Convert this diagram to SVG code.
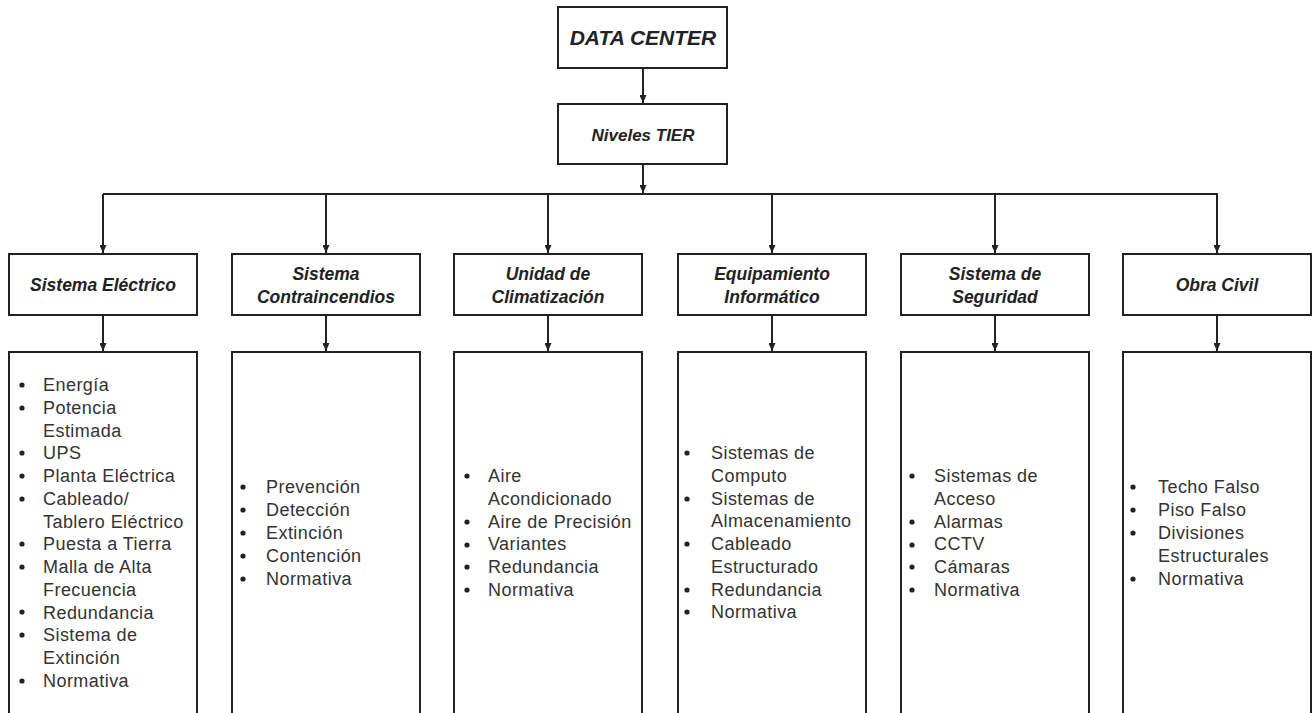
<svg xmlns="http://www.w3.org/2000/svg" width="1313" height="713" viewBox="0 0 1313 713">
<defs>
<style>
.box{fill:#fff;stroke:#222;stroke-width:2}
.ln{fill:none;stroke:#222;stroke-width:2}
.hd{font-family:"Liberation Sans",Arial,sans-serif;font-weight:bold;font-style:italic;fill:#222;text-anchor:middle}
.li{font-family:"Liberation Sans",Arial,sans-serif;font-size:18px;letter-spacing:0.45px;fill:#333}
.bl{fill:#222}
</style>
<marker id="ah" markerWidth="8" markerHeight="7" refX="8" refY="3.5" orient="auto" markerUnits="userSpaceOnUse">
<path d="M0,0 L8,3.5 L0,7 Z" fill="#222"/>
</marker>
</defs>
<rect width="1313" height="713" fill="#fff"/>
<g id="connectors">
<path class="ln" d="M643,68 V103" marker-end="url(#ah)"/>
<path class="ln" d="M643,164 V193" marker-end="url(#ah)"/>
<path class="ln" d="M103,194 H1218"/>
<path class="ln" d="M103,194 V253" marker-end="url(#ah)"/>
<path class="ln" d="M326,194 V253" marker-end="url(#ah)"/>
<path class="ln" d="M548,194 V253" marker-end="url(#ah)"/>
<path class="ln" d="M772,194 V253" marker-end="url(#ah)"/>
<path class="ln" d="M995,194 V253" marker-end="url(#ah)"/>
<path class="ln" d="M1217,194 V253" marker-end="url(#ah)"/>
<path class="ln" d="M103,315 V351" marker-end="url(#ah)"/>
<path class="ln" d="M326,315 V351" marker-end="url(#ah)"/>
<path class="ln" d="M548,315 V351" marker-end="url(#ah)"/>
<path class="ln" d="M772,315 V351" marker-end="url(#ah)"/>
<path class="ln" d="M995,315 V351" marker-end="url(#ah)"/>
<path class="ln" d="M1217,315 V351" marker-end="url(#ah)"/>
</g>
<g id="data-center">
<rect class="box" x="558" y="7" width="169" height="61"/>
<text class="hd" x="643" y="45" font-size="21">DATA CENTER</text>
</g>
<g id="niveles-tier">
<rect class="box" x="558" y="104" width="169" height="60"/>
<text class="hd" x="643" y="141" font-size="17">Niveles TIER</text>
</g>
<g id="sistema-electrico">
<rect class="box" x="9" y="254" width="188" height="61"/>
<text class="hd" x="103" y="291" font-size="17.5">Sistema Eléctrico</text>
</g>
<g id="sistema-contraincendios">
<rect class="box" x="232" y="254" width="188" height="61"/>
<text class="hd" x="326" y="280" font-size="17.5">Sistema</text>
<text class="hd" x="326" y="303" font-size="17.5">Contraincendios</text>
</g>
<g id="unidad-climatizacion">
<rect class="box" x="454" y="254" width="188" height="61"/>
<text class="hd" x="548" y="280" font-size="17.5">Unidad de</text>
<text class="hd" x="548" y="303" font-size="17.5">Climatización</text>
</g>
<g id="equipamiento-informatico">
<rect class="box" x="678" y="254" width="188" height="61"/>
<text class="hd" x="772" y="280" font-size="17.5">Equipamiento</text>
<text class="hd" x="772" y="303" font-size="17.5">Informático</text>
</g>
<g id="sistema-seguridad">
<rect class="box" x="901" y="254" width="188" height="61"/>
<text class="hd" x="995" y="280" font-size="17.5">Sistema de</text>
<text class="hd" x="995" y="303" font-size="17.5">Seguridad</text>
</g>
<g id="obra-civil">
<rect class="box" x="1123" y="254" width="188" height="61"/>
<text class="hd" x="1217" y="291" font-size="17.5">Obra Civil</text>
</g>
<g id="lista-electrico">
<rect class="box" x="9" y="352" width="188" height="380"/>
<text class="li" x="43" y="391"><tspan x="43">Energía</tspan><tspan x="43" dy="22.75">Potencia</tspan><tspan x="43" dy="22.75">Estimada</tspan><tspan x="43" dy="22.75">UPS</tspan><tspan x="43" dy="22.75">Planta Eléctrica</tspan><tspan x="43" dy="22.75">Cableado/</tspan><tspan x="43" dy="22.75">Tablero Eléctrico</tspan><tspan x="43" dy="22.75">Puesta a Tierra</tspan><tspan x="43" dy="22.75">Malla de Alta</tspan><tspan x="43" dy="22.75">Frecuencia</tspan><tspan x="43" dy="22.75">Redundancia</tspan><tspan x="43" dy="22.75">Sistema de</tspan><tspan x="43" dy="22.75">Extinción</tspan><tspan x="43" dy="22.75">Normativa</tspan></text>
<g class="bl"><circle cx="22" cy="385" r="2.6"/><circle cx="22" cy="408" r="2.6"/><circle cx="22" cy="453" r="2.6"/><circle cx="22" cy="476" r="2.6"/><circle cx="22" cy="499" r="2.6"/><circle cx="22" cy="544" r="2.6"/><circle cx="22" cy="567" r="2.6"/><circle cx="22" cy="612" r="2.6"/><circle cx="22" cy="635" r="2.6"/><circle cx="22" cy="681" r="2.6"/></g>
</g>
<g id="lista-contraincendios">
<rect class="box" x="232" y="352" width="188" height="380"/>
<text class="li" x="266" y="493"><tspan x="266">Prevención</tspan><tspan x="266" dy="23">Detección</tspan><tspan x="266" dy="23">Extinción</tspan><tspan x="266" dy="23">Contención</tspan><tspan x="266" dy="23">Normativa</tspan></text>
<g class="bl"><circle cx="243" cy="487" r="2.6"/><circle cx="243" cy="510" r="2.6"/><circle cx="243" cy="533" r="2.6"/><circle cx="243" cy="556" r="2.6"/><circle cx="243" cy="579" r="2.6"/></g>
</g>
<g id="lista-climatizacion">
<rect class="box" x="454" y="352" width="188" height="380"/>
<text class="li" x="488" y="482"><tspan x="488">Aire</tspan><tspan x="488" dy="22.75">Acondicionado</tspan><tspan x="488" dy="22.75">Aire de Precisión</tspan><tspan x="488" dy="22.75">Variantes</tspan><tspan x="488" dy="22.75">Redundancia</tspan><tspan x="488" dy="22.75">Normativa</tspan></text>
<g class="bl"><circle cx="467" cy="476" r="2.6"/><circle cx="467" cy="522" r="2.6"/><circle cx="467" cy="545" r="2.6"/><circle cx="467" cy="567" r="2.6"/><circle cx="467" cy="590" r="2.6"/></g>
</g>
<g id="lista-informatico">
<rect class="box" x="678" y="352" width="188" height="380"/>
<text class="li" x="711" y="459"><tspan x="711">Sistemas de</tspan><tspan x="711" dy="22.75">Computo</tspan><tspan x="711" dy="22.75">Sistemas de</tspan><tspan x="711" dy="22.75">Almacenamiento</tspan><tspan x="711" dy="22.75">Cableado</tspan><tspan x="711" dy="22.75">Estructurado</tspan><tspan x="711" dy="22.75">Redundancia</tspan><tspan x="711" dy="22.75">Normativa</tspan></text>
<g class="bl"><circle cx="687" cy="453" r="2.6"/><circle cx="687" cy="499" r="2.6"/><circle cx="687" cy="544" r="2.6"/><circle cx="687" cy="590" r="2.6"/><circle cx="687" cy="612" r="2.6"/></g>
</g>
<g id="lista-seguridad">
<rect class="box" x="901" y="352" width="188" height="380"/>
<text class="li" x="934" y="482"><tspan x="934">Sistemas de</tspan><tspan x="934" dy="22.75">Acceso</tspan><tspan x="934" dy="22.75">Alarmas</tspan><tspan x="934" dy="22.75">CCTV</tspan><tspan x="934" dy="22.75">Cámaras</tspan><tspan x="934" dy="22.75">Normativa</tspan></text>
<g class="bl"><circle cx="912" cy="476" r="2.6"/><circle cx="912" cy="522" r="2.6"/><circle cx="912" cy="545" r="2.6"/><circle cx="912" cy="567" r="2.6"/><circle cx="912" cy="590" r="2.6"/></g>
</g>
<g id="lista-obra-civil">
<rect class="box" x="1123" y="352" width="188" height="380"/>
<text class="li" x="1158" y="493"><tspan x="1158">Techo Falso</tspan><tspan x="1158" dy="23">Piso Falso</tspan><tspan x="1158" dy="23">Divisiones</tspan><tspan x="1158" dy="23">Estructurales</tspan><tspan x="1158" dy="23">Normativa</tspan></text>
<g class="bl"><circle cx="1133" cy="487" r="2.6"/><circle cx="1133" cy="510" r="2.6"/><circle cx="1133" cy="533" r="2.6"/><circle cx="1133" cy="579" r="2.6"/></g>
</g>
</svg>
